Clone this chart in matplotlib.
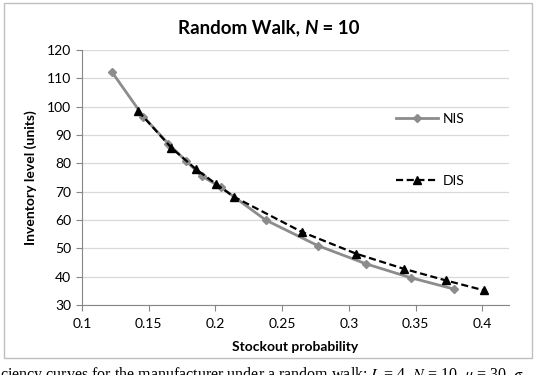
import matplotlib
matplotlib.use("Agg")
import matplotlib.pyplot as plt
from matplotlib.patches import Rectangle

# ---- data ----
nis_x = [0.1225, 0.146, 0.1645, 0.178, 0.190, 0.204, 0.2376, 0.2765, 0.313, 0.3466, 0.379]
nis_y = [112.2, 96.5, 87.0, 80.8, 75.4, 71.6, 60.0, 51.0, 44.5, 39.6, 35.6]
dis_x = [0.1422, 0.1670, 0.1855, 0.2005, 0.2138, 0.2647, 0.3055, 0.3410, 0.3725, 0.4010]
dis_y = [98.4, 85.5, 77.9, 72.7, 68.2, 55.8, 48.1, 42.8, 38.7, 35.2]
x_ticks = [0.1, 0.15, 0.2, 0.25, 0.3, 0.35, 0.4]
x_ticklabels = ["0.1", "0.15", "0.2", "0.25", "0.3", "0.35", "0.4"]
y_ticks = [30, 40, 50, 60, 70, 80, 90, 100, 110, 120]
series_labels = ["NIS", "DIS"]

plt.rcParams['font.family'] = ['Lato', 'DejaVu Sans']

W, H = 543, 375
fig = plt.figure(figsize=(W / 100, H / 100), dpi=100)

def fx(px):
    return px / W

def fy(py):
    return 1 - py / H

# chart border
fig.patches.append(Rectangle((fx(4), fy(358)), fx(532) - fx(4), fy(3) - fy(358),
                             transform=fig.transFigure, fill=False,
                             edgecolor="#bfbfbf", linewidth=1.0))

ax = fig.add_axes([fx(82), fy(305), fx(509) - fx(82), fy(50) - fy(305)])
ax.set_xlim(0.1, 0.42)
ax.set_ylim(30, 120)
ax.set_xticks(x_ticks)
ax.set_xticklabels(x_ticklabels)
ax.set_yticks(y_ticks)
ax.yaxis.grid(True, color="#d9d9d9", linewidth=0.9)
ax.set_axisbelow(True)
for s in ["top", "right"]:
    ax.spines[s].set_visible(False)
for s in ["left", "bottom"]:
    ax.spines[s].set_color("#868686")
    ax.spines[s].set_linewidth(0.8)
ax.tick_params(axis="both", direction="out", length=4, width=0.8, color="#868686",
               labelsize=10, labelcolor="#000000")
ax.tick_params(axis="x", pad=5)
ax.tick_params(axis="y", pad=4)

ax.plot(nis_x, nis_y, color="#8c8c8c", linewidth=2.0, marker="D", markersize=4.5,
        markerfacecolor="#8c8c8c", markeredgecolor="#8c8c8c", label=series_labels[0], zorder=2)
ax.plot(dis_x, dis_y, color="#000000", linewidth=1.6, linestyle=(0, (3.2, 1.6)), marker="^",
        markersize=6, markerfacecolor="#000000", markeredgecolor="#000000",
        label=series_labels[1], zorder=3)

ax.set_xlabel("Stockout probability", fontsize=10, fontweight="bold", labelpad=8)
ax.set_ylabel("Inventory level (units)", fontsize=10, fontweight="bold", labelpad=7)

leg = ax.legend(loc="upper left", bbox_to_anchor=(fx(389), fy(106)),
                bbox_transform=fig.transFigure, frameon=False, fontsize=10,
                handlelength=3.0, handletextpad=0.4, labelspacing=3.6, borderpad=0)

# title with italic N
fig.canvas.draw()
renderer = fig.canvas.get_renderer()
parts = [("Random Walk, ", "normal"), ("N", "italic"), (" = 10", "normal")]
texts = []
for s, st in parts:
    t = fig.text(0, fy(28), s, fontsize=13.5, fontweight="bold", style=st,
                 va="center", ha="left")
    texts.append(t)
widths = [t.get_window_extent(renderer).width for t in texts]
total = sum(widths)
x0 = W / 2 - total / 2 - 3
for t, w in zip(texts, widths):
    t.set_x(fx(x0))
    x0 += w

# cut-off caption below the chart (as in the reference)
fig.text(fx(0), fy(365),
         r"ciency curves for the manufacturer under a random walk: $L$ = 4, $N$ = 10, $\mu$ = 30, $\sigma$",
         fontsize=11.5, family="Liberation Serif", math_fontfamily="stix",
         va="top", ha="left")

fig.savefig("out.png", dpi=100)
